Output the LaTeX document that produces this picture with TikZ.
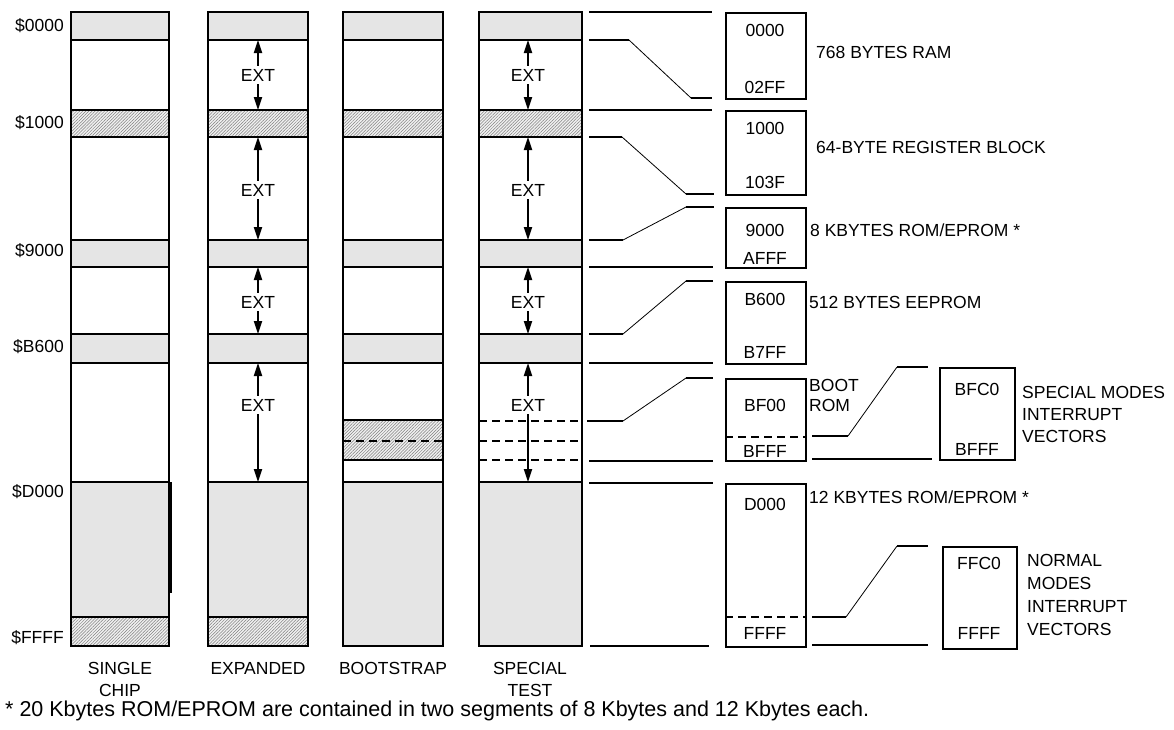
\documentclass[tikz,border=0pt]{standalone}
\usepackage{fontspec}
\setmainfont{Liberation Sans}
\usetikzlibrary{arrows.meta, patterns.meta, positioning}

\begin{document}
\begin{tikzpicture}[
    x=1pt, y=-1pt,
    every node/.style={font=\fontsize{17.5}{22}\selectfont, inner sep=0pt},
    wall/.style={draw, line width=2.4pt},
    rom/.style={fill=gray!20, draw, line width=2.4pt},
    hatch/.style={preaction={fill=gray!12}, pattern={Lines[angle=45,distance=2.2pt,line width=0.5pt]}, pattern color=black!50, draw, line width=2.4pt},
    dashline/.style={line width=1.8pt, dash pattern=on 8pt off 5pt},
    link/.style={line width=1.8pt},
    slope/.style={line width=0.8pt},
    box/.style={draw, line width=1.8pt, minimum width=80pt, anchor=north west},
    arrow/.style={-{Triangle[length=13pt,width=8pt]}, line width=1.8pt},
    ext/.style={inner sep=3pt},
    addr/.style={anchor=east},
    note/.style={anchor=west, align=left}
  ]
    \useasboundingbox (0,0) rectangle (1174,729);

    % memory map columns
    \foreach \l/\r in {71/169, 208/308, 343/443, 479/582} {
      \path[rom] (\l,12) rectangle (\r,40);
      \path[hatch] (\l,110) rectangle (\r,137);
      \path[rom] (\l,240) rectangle (\r,267);
      \path[rom] (\l,334) rectangle (\r,363);
      \path[rom] (\l,482) rectangle (\r,646);
    }
    \foreach \l/\r in {71/169, 208/308}
      \path[hatch] (\l,617) rectangle (\r,646);
    \path[hatch] (343,420) rectangle (443,460);
    \draw[dashline] (343,441) -- (443,441);
    \foreach \y in {421, 441, 460}
      \draw[dashline] (479,\y) -- (582,\y);
    \foreach \l/\r in {71/169, 208/308, 343/443, 479/582}
      \path[wall] (\l,12) rectangle (\r,646);
    \draw[line width=3.5pt] (170,482) -- (170,593);

    % external ranges
    \foreach \cx/\c in {258/b, 528/d} {
      \node[ext] (ext1\c) at (\cx,75) {EXT};
      \node[ext] (ext2\c) at (\cx,190) {EXT};
      \node[ext] (ext3\c) at (\cx,302) {EXT};
      \node[ext] (ext4\c) at (\cx,405) {EXT};
      \draw[arrow] (ext1\c) -- (\cx,40);
      \draw[arrow] (ext1\c) -- (\cx,110);
      \draw[arrow] (ext2\c) -- (\cx,137);
      \draw[arrow] (ext2\c) -- (\cx,240);
      \draw[arrow] (ext3\c) -- (\cx,267);
      \draw[arrow] (ext3\c) -- (\cx,334);
      \draw[arrow] (ext4\c) -- (\cx,363);
      \draw[arrow] (ext4\c) -- (\cx,482);
    }

    \node[addr] (a0000) at (64,26) {\$0000};
    \node[addr] (a1000) at (64,123) {\$1000};
    \node[addr] (a9000) at (64,251) {\$9000};
    \node[addr] (ab600) at (64,347) {\$B600};
    \node[addr] (ad000) at (64,492) {\$D000};
    \node[addr] (affff) at (64,638) {\$FFFF};

    \node[align=center] (csingle) at (120,679) {SINGLE\\CHIP};
    \node (cexpanded) at (258,668) {EXPANDED};
    \node (cboot) at (393,668) {BOOTSTRAP};
    \node[align=center] (ctest) at (530,679) {SPECIAL\\TEST};

    % expanded blocks
    \node[box, minimum height=86pt] (ram) at (725,12) {};
    \node[box, minimum height=84pt] (reg) at (725,110) {};
    \node[box, minimum height=60pt] (rom8) at (725,207) {};
    \node[box, minimum height=82pt] (eeprom) at (725,281) {};
    \node[box, minimum height=82pt] (boot) at (725,378) {};
    \node[box, minimum height=163pt] (rom12) at (725,483) {};
    \node[box, minimum width=75pt, minimum height=92pt] (svec) at (939,367) {};
    \node[box, minimum width=74pt, minimum height=102pt] (nvec) at (942,546) {};
    \draw[dashline] (boot.west |- 0,437) -- (boot.east |- 0,437);
    \draw[dashline] (rom12.west |- 0,617) -- (rom12.east |- 0,617);

    \node at (765,30) {0000};   \node at (765,87) {02FF};
    \node at (765,128) {1000};  \node at (765,182) {103F};
    \node at (765,230) {9000};  \node at (765,258) {AFFF};
    \node at (765,299) {B600};  \node at (765,352) {B7FF};
    \node at (765,405) {BF00};  \node at (765,451) {BFFF};
    \node at (765,504) {D000};  \node at (765,633) {FFFF};
    \node at (977,389) {BFC0};  \node at (977,449) {BFFF};
    \node at (979,563) {FFC0};  \node at (979,633) {FFFF};

    \node[note] (lram) at (816,52) {768 BYTES RAM};
    \node[note] (lreg) at (816,147) {64-BYTE REGISTER BLOCK};
    \node[note] (lrom8) at (810,230) {8 KBYTES ROM/EPROM *};
    \node[note] (leeprom) at (809,302) {512 BYTES EEPROM};
    \node[note, font=\fontsize{17.5}{20}\selectfont] (lboot) at (809,395) {BOOT\\ROM};
    \node[note] (lrom12) at (809,497) {12 KBYTES ROM/EPROM *};
    \node[note] (lsvec) at (1022,414) {SPECIAL MODES\\INTERRUPT\\VECTORS};
    \node[note, font=\fontsize{17.5}{23}\selectfont] (lnvec) at (1027,595) {NORMAL\\MODES\\INTERRUPT\\VECTORS};

    % expansion lines
    \draw[link] (589,12) -- (712,12);
    \draw[link] (589,40) -- (629,40);
    \draw[slope] (629,40) -- (691,98);
    \draw[link] (691,98) -- (712,98);
    \draw[link] (589,110) -- (712,110);
    \draw[link] (589,137) -- (622,137);
    \draw[slope] (622,137) -- (686,194);
    \draw[link] (686,194) -- (714,194);
    \draw[link] (589,240) -- (623,240);
    \draw[slope] (623,240) -- (686,207);
    \draw[link] (686,207) -- (714,207);
    \draw[link] (589,267) -- (713,267);
    \draw[link] (589,334) -- (623,334);
    \draw[slope] (623,334) -- (686,281);
    \draw[link] (686,281) -- (713,281);
    \draw[link] (589,363) -- (713,363);
    \draw[link] (587,421) -- (623,421);
    \draw[slope] (623,421) -- (686,378);
    \draw[link] (686,378) -- (713,378);
    \draw[link] (589,461) -- (713,461);
    \draw[link] (589,483) -- (713,483);
    \draw[link] (590,646) -- (709,646);

    \draw[link] (812,436) -- (848,436);
    \draw[slope] (848,436) -- (897,367);
    \draw[link] (897,367) -- (928,367);
    \draw[link] (812,459) -- (932,459);
    \draw[link] (812,617) -- (846,617);
    \draw[slope] (846,617) -- (897,546);
    \draw[link] (897,546) -- (928,546);
    \draw[link] (812,645) -- (928,645);

    \node[anchor=west, font=\fontsize{21.5}{25}\selectfont] (foot) at (5,711) {* 20 Kbytes ROM/EPROM are contained in two segments of 8 Kbytes and 12 Kbytes each.};
\end{tikzpicture}
\end{document}
